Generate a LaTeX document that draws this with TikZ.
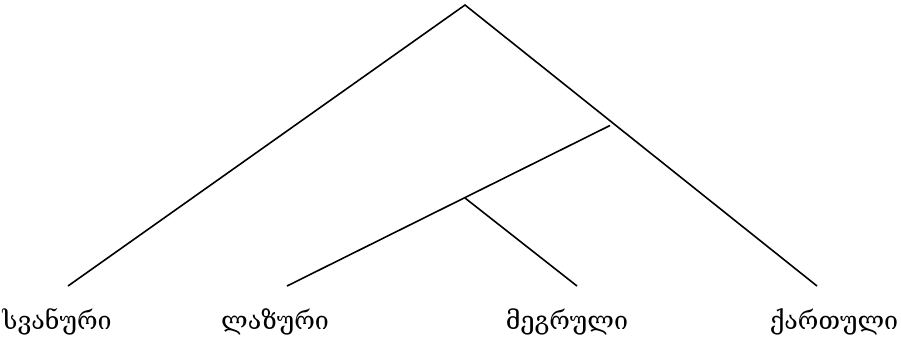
\documentclass[tikz,border=0pt]{standalone}
\usepackage{fontspec}
\newfontfamily\geo[Script=Georgian]{DejaVu Serif}
\begin{document}
\begin{tikzpicture}[x=1pt,y=-1pt,
  edge/.style={line width=1.6pt, black},
  lbl/.style={anchor=base, inner sep=0pt, font=\geo\fontsize{25}{27}\selectfont}]
\useasboundingbox (0,0) rectangle (901,341);
\coordinate (root) at (465,5);
\coordinate (j1) at (610,125.5);
\coordinate (j2) at (465,198);
\coordinate (e1) at (68,286);
\coordinate (e2) at (287,286);
\coordinate (e3) at (577,286);
\coordinate (e4) at (817,286);
\draw[edge] (e1) -- (root) -- (e4);
\draw[edge] (j1) -- (e2);
\draw[edge] (j2) -- (e3);
\node[lbl] (l1) at (57,329) {სვანური};
\node[lbl] (l2) at (275,329) {ლაზური};
\node[lbl] (l3) at (567,329) {მეგრული};
\node[lbl] (l4) at (834,329) {ქართული};
\end{tikzpicture}
\end{document}
